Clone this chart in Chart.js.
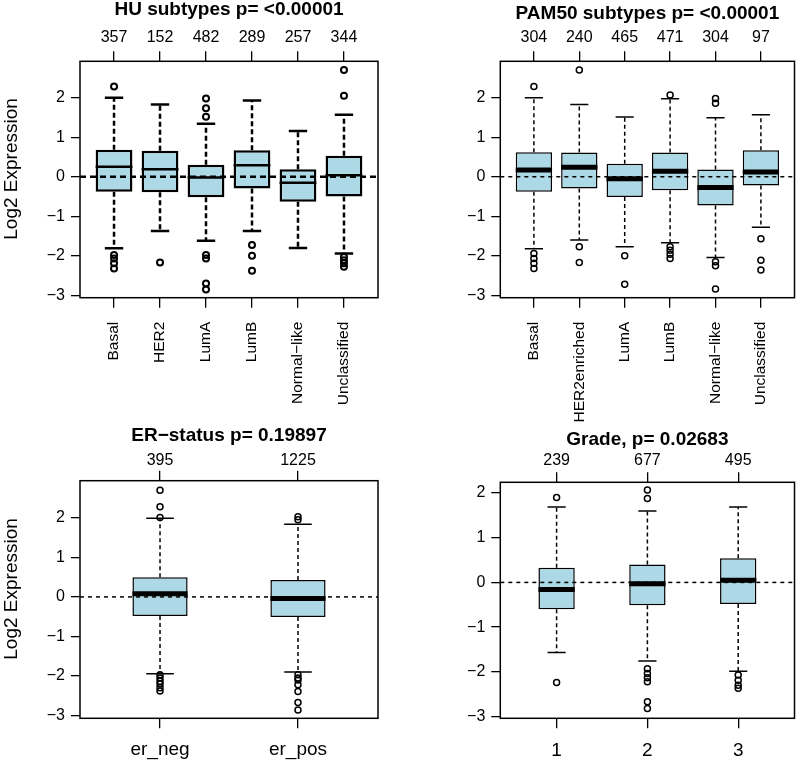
<!DOCTYPE html>
<html>
<head>
<meta charset="utf-8">
<script src="https://cdn.jsdelivr.net/npm/chart.js@4"></script>
<style>
  body { margin: 0; background: #fff; }
  #wrap { position: relative; width: 800px; height: 764px; overflow: hidden; }
  canvas { position: absolute; }
</style>
</head>
<body>
<div id="wrap">
  <canvas id="huChart" width="400" height="440" style="left:0;top:0"></canvas>
  <canvas id="pamChart" width="400" height="440" style="left:400px;top:0"></canvas>
  <canvas id="erChart" width="400" height="384" style="left:0;top:380px"></canvas>
  <canvas id="gradeChart" width="400" height="384" style="left:400px;top:380px"></canvas>
</div>
<script>
// HU subtypes
const huLabels = ["Basal", "HER2", "LumA", "LumB", "Normal\u2212like", "Unclassified"];
const huCounts = [357, 152, 482, 289, 257, 344];
const huQ1  = [-0.38, -0.39, -0.52, -0.30, -0.63, -0.50];
const huMed = [0.25, 0.19, -0.02, 0.29, -0.15, 0.04];
const huQ3  = [0.68, 0.66, 0.30, 0.67, 0.19, 0.53];
const huLo  = [-1.81, -1.37, -1.62, -1.37, -1.80, -1.94];
const huHi  = [2.00, 1.83, 1.34, 1.93, 1.16, 1.57];
const huOut = [
  [2.28, -1.98, -2.07, -2.19, -2.32],
  [-2.17],
  [1.98, 1.73, 1.52, -1.98, -2.07, -2.70, -2.85],
  [-1.73, -2.00, -2.38],
  [],
  [2.70, 2.05, -2.03, -2.11, -2.19, -2.28]
];

// PAM50 subtypes
const pamLabels = ["Basal", "HER2enriched", "LumA", "LumB", "Normal\u2212like", "Unclassified"];
const pamCounts = [304, 240, 465, 471, 304, 97];
const pamQ1  = [-0.38, -0.30, -0.51, -0.34, -0.73, -0.22];
const pamMed = [0.17, 0.24, -0.05, 0.14, -0.27, 0.12];
const pamQ3  = [0.62, 0.61, 0.33, 0.61, 0.18, 0.67];
const pamLo  = [-1.82, -1.60, -1.77, -1.67, -2.04, -1.28];
const pamHi  = [2.00, 1.83, 1.51, 1.97, 1.49, 1.57];
const pamOut = [
  [2.28, -1.94, -2.07, -2.19, -2.32],
  [2.70, -1.77, -2.17],
  [-2.00, -2.72],
  [2.07, -1.77, -1.86, -1.96, -2.07],
  [1.98, 1.86, -2.15, -2.25, -2.84],
  [-1.57, -2.11, -2.36]
];

// ER status
const erLabels = ["er_neg", "er_pos"];
const erCounts = [395, 1225];
const erQ1  = [-0.48, -0.51];
const erMed = [0.08, -0.04];
const erQ3  = [0.50, 0.43];
const erLo  = [-1.94, -1.90];
const erHi  = [1.99, 1.84];
const erOut = [
  [2.70, 2.28, 2.01, -1.97, -2.05, -2.13, -2.20, -2.30, -2.38],
  [2.03, 1.95, -1.97, -2.05, -2.10, -2.22, -2.39, -2.67, -2.86]
];

// Grade
const gradeLabels = ["1", "2", "3"];
const gradeCounts = [239, 677, 495];
const gradeQ1  = [-0.60, -0.51, -0.48];
const gradeMed = [-0.16, -0.03, 0.05];
const gradeQ3  = [0.33, 0.40, 0.54];
const gradeLo  = [-1.57, -1.76, -1.99];
const gradeHi  = [1.69, 1.60, 1.69];
const gradeOut = [
  [1.90, -2.24],
  [2.07, 1.88, -1.93, -2.04, -2.13, -2.22, -2.67, -2.82],
  [-2.07, -2.19, -2.30, -2.37]
];

const yTicks = [-3, -2, -1, 0, 1, 2];

Chart.defaults.font.family = "'Liberation Sans', Arial, sans-serif";
Chart.defaults.color = "#000";

// dashed reference line at 0 and the box round the plot
const framePlugin = {
  id: "frame",
  afterDatasetsDraw(chart, args, opts) {
    const { ctx, chartArea: a } = chart;
    const y0 = chart.scales.y.getPixelForValue(0);
    ctx.save();
    ctx.strokeStyle = "#000";
    ctx.lineWidth = opts.zeroWidth;
    ctx.setLineDash(opts.zeroDash);
    ctx.beginPath();
    ctx.moveTo(a.left, y0);
    ctx.lineTo(a.right, y0);
    ctx.stroke();
    ctx.setLineDash([]);
    ctx.lineWidth = opts.frameWidth;
    ctx.strokeRect(a.left, a.top, a.right - a.left, a.bottom - a.top);
    ctx.restore();
  }
};

function minus(v) {
  return v < 0 ? "\u2212" + Math.abs(v) : String(v);
}

function boxPanel(id, d, s) {
  const xs = d.labels.map((l, i) => i + 1);
  const boxes = xs.map((x, i) => ({ x, y: [d.q1[i], d.q3[i]] }));
  const meds = xs.map((x, i) => ({ x, y: d.med[i] }));
  const caps = [];
  const whisk = [];
  xs.forEach((x, i) => {
    caps.push({ x, y: d.hi[i] }, { x, y: d.lo[i] });
    whisk.push({ x, y: d.q3[i] }, { x, y: d.hi[i] }, { x, y: null },
               { x, y: d.q1[i] }, { x, y: d.lo[i] }, { x, y: null });
  });
  const outs = [];
  d.out.forEach((arr, i) => arr.forEach(v => outs.push({ x: i + 1, y: v })));

  // half width in pixels of a segment that is f x-units wide
  const halfPx = f => ctx => {
    const sc = ctx.chart.scales.x;
    return Math.abs(sc.getPixelForValue(1 + f) - sc.getPixelForValue(1));
  };

  const tickGrid = len => ({
    display: true, drawOnChartArea: false, drawTicks: true,
    tickLength: len, color: "#000", lineWidth: 1.3, offset: false
  });

  return new Chart(document.getElementById(id), {
    type: "bar",
    data: {
      datasets: [
        {
          type: "scatter", data: outs, order: 0,
          pointStyle: "circle", pointRadius: s.outR,
          pointBorderWidth: s.outLw, pointBorderColor: "#000",
          pointBackgroundColor: "rgba(0,0,0,0)"
        },
        {
          type: "scatter", data: meds, order: 1,
          pointStyle: "line", pointRadius: halfPx(s.boxwex / 2),
          pointBorderWidth: s.medLw, pointBorderColor: "#000"
        },
        {
          type: "scatter", data: caps, order: 2,
          pointStyle: "line", pointRadius: halfPx(s.boxwex / 4),
          pointBorderWidth: s.capLw, pointBorderColor: "#000"
        },
        {
          type: "bar", data: boxes, order: 3,
          backgroundColor: "#add8e6", borderColor: "#000",
          borderWidth: s.boxLw, borderSkipped: false,
          barPercentage: s.boxwex, categoryPercentage: 1
        },
        {
          type: "line", data: whisk, order: 4,
          borderColor: "#000", borderWidth: s.wLw, borderDash: s.wDash,
          pointRadius: 0, spanGaps: false, fill: false
        }
      ]
    },
    options: {
      responsive: false,
      animation: false,
      devicePixelRatio: 1,
      events: [],
      layout: { padding: { left: 0, top: 0, bottom: 0, right: s.W - s.frame.r } },
      plugins: {
        legend: { display: false },
        tooltip: { enabled: false },
        frame: { zeroWidth: s.zeroLw, zeroDash: s.zeroDash, frameWidth: 1.5 }
      },
      scales: {
        x: {
          type: "linear", axis: "x", position: "bottom",
          min: s.xMin, max: s.xMax, offset: false,
          afterBuildTicks: sc => { sc.ticks = xs.map(v => ({ value: v })); },
          afterFit: sc => { sc.height = s.H - s.frame.b; sc.paddingLeft = 0; sc.paddingRight = 0; },
          grid: tickGrid(10),
          border: { display: false },
          ticks: {
            autoSkip: false, minRotation: s.rot, maxRotation: s.rot,
            padding: s.xPad, font: { size: s.xFont },
            callback: (v, i) => d.labels[i]
          }
        },
        x2: {
          type: "linear", axis: "x", position: "top",
          min: s.xMin, max: s.xMax, offset: false,
          afterBuildTicks: sc => { sc.ticks = xs.map(v => ({ value: v })); },
          afterFit: sc => { sc.height = s.frame.t; sc.paddingLeft = 0; sc.paddingRight = 0; },
          grid: tickGrid(10),
          border: { display: false },
          ticks: {
            autoSkip: false, maxRotation: 0, padding: s.cPad,
            font: { size: 16 },
            callback: (v, i) => String(d.counts[i])
          },
          title: {
            display: true, text: d.title,
            font: { size: 19, weight: "bold", lineHeight: 1 },
            padding: { top: s.titlePad, bottom: 0 }
          }
        },
        y: {
          type: "linear", position: "left",
          min: s.yMin, max: s.yMax,
          afterBuildTicks: sc => { sc.ticks = yTicks.map(v => ({ value: v })); },
          afterFit: sc => { sc.width = s.frame.l; sc.paddingTop = 0; sc.paddingBottom = 0; },
          grid: tickGrid(9),
          border: { display: false },
          ticks: { padding: 6, font: { size: 16 }, callback: v => minus(v) },
          title: {
            display: !!s.yTitle, text: s.yTitle,
            font: { size: 19 }, padding: 0
          }
        }
      }
    },
    plugins: [framePlugin]
  });
}

const thick = { boxLw: 2.5, medLw: 2.5, wLw: 2.5, wDash: [5, 3], capLw: 2.5, outR: 3, outLw: 2, zeroLw: 2.5, zeroDash: [6, 4] };
const thin  = { boxLw: 1.5, medLw: 5, wLw: 1.5, wDash: [4, 3], capLw: 1.5, outR: 3, outLw: 1.5, zeroLw: 1.5, zeroDash: [4, 4] };

boxPanel("huChart",
  { labels: huLabels, counts: huCounts, q1: huQ1, med: huMed, q3: huQ3, lo: huLo, hi: huHi, out: huOut,
    title: "HU subtypes p= <0.00001" },
  Object.assign({}, thick, {
    W: 400, H: 440, frame: { l: 80, t: 61.3, r: 378, b: 297.7 },
    xMin: 0.26, xMax: 6.74, yMin: -3.06, yMax: 2.92, boxwex: 0.8,
    rot: 90, xFont: 15.5, xPad: 14, cPad: 4, titlePad: 0,
    yTitle: "    Log2 Expression"
  }));

boxPanel("pamChart",
  { labels: pamLabels, counts: pamCounts, q1: pamQ1, med: pamMed, q3: pamQ3, lo: pamLo, hi: pamHi, out: pamOut,
    title: "PAM50 subtypes p= <0.00001" },
  Object.assign({}, thin, {
    W: 400, H: 440, frame: { l: 100.3, t: 61.3, r: 397.7, b: 297.7 },
    xMin: 0.26, xMax: 6.74, yMin: -3.06, yMax: 2.92, boxwex: 0.8,
    rot: 90, xFont: 15.5, xPad: 14, cPad: 4, titlePad: 4.5,
    yTitle: ""
  }));

boxPanel("erChart",
  { labels: erLabels, counts: erCounts, q1: erQ1, med: erMed, q3: erQ3, lo: erLo, hi: erHi, out: erOut,
    title: "ER\u2212status p= 0.19897" },
  Object.assign({}, thin, {
    W: 400, H: 384, frame: { l: 80, t: 100.7, r: 378, b: 338.3 },
    xMin: 0.42, xMax: 2.58, yMin: -3.07, yMax: 2.94, boxwex: 0.4,
    rot: 0, xFont: 19, xPad: 10, cPad: 1, titlePad: 46.5,
    yTitle: "    Log2 Expression"
  }));

boxPanel("gradeChart",
  { labels: gradeLabels, counts: gradeCounts, q1: gradeQ1, med: gradeMed, q3: gradeQ3, lo: gradeLo, hi: gradeHi, out: gradeOut,
    title: "Grade, p= 0.02683" },
  Object.assign({}, thin, {
    W: 400, H: 384, frame: { l: 100.3, t: 102.3, r: 398, b: 338.3 },
    xMin: 0.38, xMax: 3.62, yMin: -3.04, yMax: 2.24, boxwex: 0.4,
    rot: 0, xFont: 19, xPad: 11, cPad: 2, titlePad: 50.5,
    yTitle: ""
  }));
</script>
</body>
</html>
